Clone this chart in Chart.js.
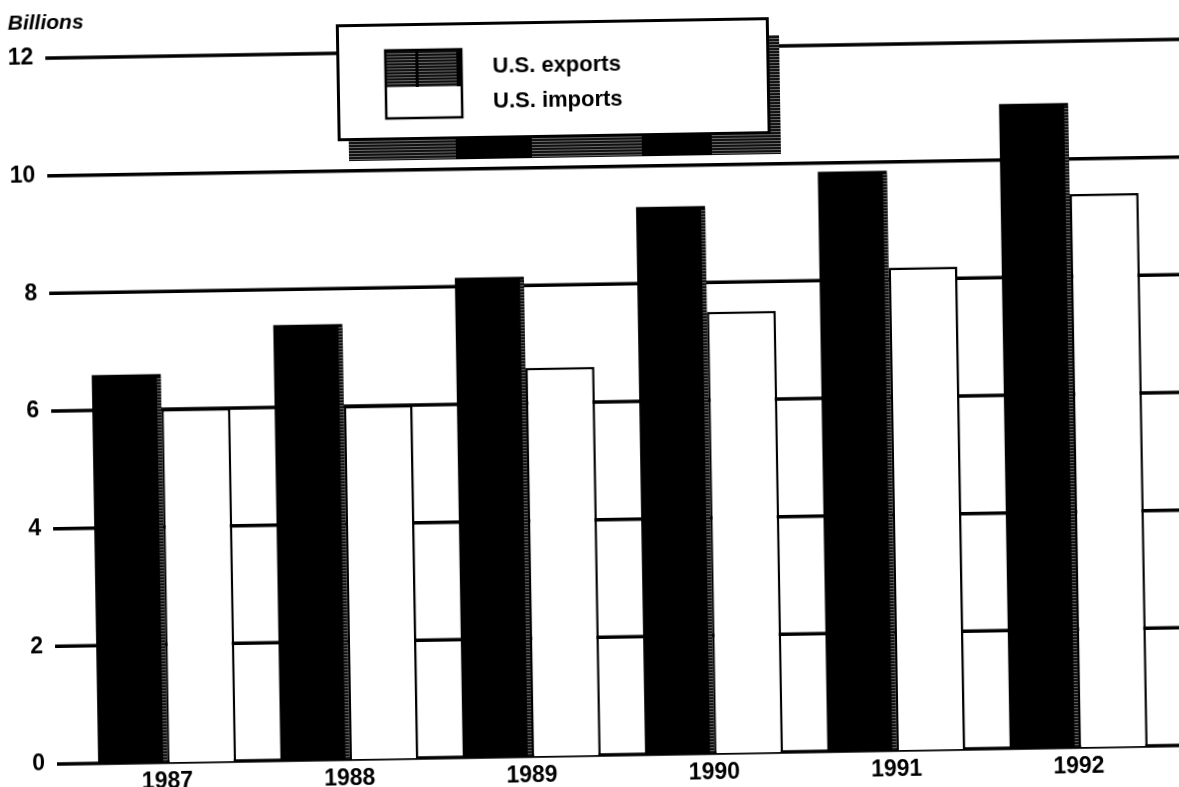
<!DOCTYPE html>
<html>
<head>
<meta charset="utf-8">
<script src="https://cdn.jsdelivr.net/npm/chart.js@4/dist/chart.umd.min.js"></script>
<style>
  html, body { margin: 0; padding: 0; background: #fff; overflow: hidden; width: 1179px; height: 787px; }
  #wrap { position: absolute; left: 0; top: 0; width: 1240px; height: 830px;
          transform: rotate(-0.95deg); transform-origin: 60px 764px; }
  canvas { display: block; }
</style>
</head>
<body>
<div id="wrap"><canvas id="c" width="1240" height="830"></canvas></div>
<script>
// Annual U.S. trade, billions of dollars
const years = ['1987', '1988', '1989', '1990', '1991', '1992'];
const usExports = [6.6, 7.4, 8.15, 9.3, 9.85, 10.95];
const usImports = [6.0, 6.0, 6.6, 7.5, 8.2, 9.4];
const yTicks = [0, 2, 4, 6, 8, 10, 12];
const unitLabel = 'Billions';
const seriesNames = ['U.S. exports', 'U.S. imports'];

const FONT = 'Liberation Sans, Arial, Helvetica, sans-serif';

// dark horizontal hatching used for the legend shadow and swatch
function hatch(ctx) {
  const p = document.createElement('canvas');
  p.width = 4; p.height = 3;
  const g = p.getContext('2d');
  g.fillStyle = '#111'; g.fillRect(0, 0, 4, 3);
  g.fillStyle = '#6a6a6a'; g.fillRect(0, 2, 4, 1);
  return ctx.createPattern(p, 'repeat');
}

// horizontal rules at every tick, behind the bars
const gridRules = {
  id: 'gridRules',
  beforeDatasetsDraw(chart) {
    const y = chart.scales.y, ctx = chart.ctx;
    ctx.save();
    ctx.strokeStyle = '#000';
    ctx.lineWidth = 3.5;
    y.ticks.forEach(t => {
      const py = y.getPixelForValue(t.value);
      ctx.beginPath();
      ctx.moveTo(57, py);
      ctx.lineTo(chart.width, py);
      ctx.stroke();
    });
    ctx.restore();
  }
};

// striped right edge on the solid export bars
const barEdges = {
  id: 'barEdges',
  afterDatasetsDraw(chart) {
    const ctx = chart.ctx;
    const pat = hatch(ctx);
    ctx.save();
    ctx.fillStyle = pat;
    chart.getDatasetMeta(0).data.forEach(b => {
      const right = b.x + b.width / 2;
      ctx.fillRect(right - 4, b.y + 3, 4, b.base - b.y - 3);
    });
    ctx.restore();
  }
};

// unit caption and boxed legend with drop shadow
const boxLegend = {
  id: 'boxLegend',
  afterDraw(chart) {
    const ctx = chart.ctx;
    const pat = hatch(ctx);
    ctx.save();

    ctx.fillStyle = '#000';
    ctx.font = 'italic bold 21px ' + FONT;
    ctx.textBaseline = 'alphabetic';
    ctx.textAlign = 'left';
    ctx.fillText(unitLabel, 20, 29);

    // shadow
    ctx.fillStyle = pat;
    ctx.fillRect(359, 47, 432, 119);
    ctx.fillStyle = '#000';
    ctx.fillRect(466, 146, 76, 20);
    ctx.fillRect(652, 146, 70, 20);

    // box
    ctx.fillStyle = '#fff';
    ctx.fillRect(349, 30, 431, 115);
    ctx.strokeStyle = '#000';
    ctx.lineWidth = 3;
    ctx.strokeRect(349.5, 30.5, 430, 114);

    // swatches
    const ds = chart.data.datasets;
    const sx = 397, sw = 76;
    ctx.fillStyle = pat;
    ctx.fillRect(sx, 56, sw, 37);
    ctx.fillStyle = '#000';
    ctx.fillRect(sx + 30, 56, 3, 37);
    ctx.fillRect(sx + sw - 5, 56, 5, 37);
    ctx.fillStyle = ds[1].backgroundColor;
    ctx.fillRect(sx, 93, sw, 31);
    ctx.lineWidth = 2.5;
    ctx.strokeStyle = '#000';
    ctx.strokeRect(sx, 56, sw, 68);

    ctx.fillStyle = '#000';
    ctx.font = 'bold 22px ' + FONT;
    ctx.fillText(ds[0].label, 504, 80);
    ctx.fillText(ds[1].label, 504, 115);
    ctx.restore();
  }
};

new Chart(document.getElementById('c'), {
  type: 'bar',
  data: {
    labels: years,
    datasets: [
      { label: seriesNames[0], data: usExports, backgroundColor: '#000', borderColor: '#000', borderWidth: 0 },
      { label: seriesNames[1], data: usImports, backgroundColor: '#fff', borderColor: '#000', borderWidth: 2.5 }
    ]
  },
  options: {
    responsive: false,
    animation: false,
    devicePixelRatio: 1,
    layout: { padding: { top: 58, right: 70, left: 0, bottom: 0 } },
    datasets: { bar: { categoryPercentage: 0.757, barPercentage: 1 } },
    plugins: { legend: { display: false }, tooltip: { enabled: false } },
    scales: {
      x: {
        grid: { display: false, drawTicks: false },
        border: { display: false },
        ticks: { color: '#000', font: { family: FONT, weight: 'bold', size: 23 }, padding: 6, maxRotation: 0 },
        afterFit: s => { s.height = 830 - 764; }
      },
      y: {
        min: 0, max: 12,
        grid: { display: false, drawTicks: false },
        border: { display: false },
        ticks: { color: '#000', font: { family: FONT, weight: 'bold', size: 23 }, padding: 31 },
        afterBuildTicks: s => { s.ticks = yTicks.map(v => ({ value: v })); },
        afterFit: s => { s.width = 76; }
      }
    }
  },
  plugins: [gridRules, barEdges, boxLegend]
});
</script>
</body>
</html>
